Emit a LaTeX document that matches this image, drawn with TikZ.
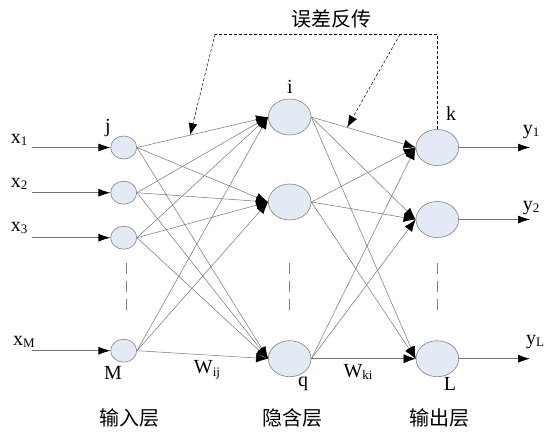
\documentclass[tikz,border=0pt]{standalone}
\usepackage{fontspec}
\setmainfont{Liberation Serif}
\newfontfamily\cjk{Noto Sans CJK SC}
\usetikzlibrary{shapes.geometric,arrows.meta,calc}
\definecolor{nodefill}{RGB}{228,233,246}
\definecolor{nodeedge}{RGB}{130,130,130}
\definecolor{linegray}{RGB}{115,115,115}
\newcommand{\nsub}[2]{#1\raisebox{-2.5pt}{\fontsize{13}{13}\selectfont #2}}
\begin{document}
\begin{tikzpicture}[x=1pt,y=-1pt,
  neuron/.style={ellipse, draw=nodeedge, fill=nodefill, line width=0.6pt, inner sep=0pt},
  insm/.style={neuron, minimum width=26pt, minimum height=23pt},
  bign/.style={neuron, minimum width=42.7pt, minimum height=36pt},
  conn/.style={draw=linegray, line width=0.5pt, -{Latex[length=12pt,width=9pt,color=black]}},
  ioarrow/.style={draw=linegray, line width=0.7pt, -{Latex[length=12pt,width=8pt,color=black]}},
  fbline/.style={draw=black, line width=0.5pt, dash pattern=on 3pt off 2pt},
  fbarrow/.style={fbline, -{Latex[length=12pt,width=9pt,color=black]}},
  layerdash/.style={draw=gray, line width=0.6pt, dash pattern=on 11pt off 7pt},
  lbl/.style={inner sep=0pt, font=\fontsize{20}{20}\selectfont},
  cjklbl/.style={inner sep=0pt, font=\cjk\fontsize{20}{20}\selectfont}
]
\useasboundingbox (0,0) rectangle (546,432);

% neurons
\node[insm] (in1) at (123.7,147.5) {};
\node[insm] (in2) at (123.7,192.7) {};
\node[insm] (in3) at (123.7,237.7) {};
\node[insm] (inM) at (123.7,350.7) {};
\node[bign] (h1) at (289.7,117) {};
\node[bign] (h2) at (289.7,202) {};
\node[bign] (hq) at (289.7,358.7) {};
\node[bign] (o1) at (437.3,147.5) {};
\node[bign] (o2) at (437.3,219.5) {};
\node[bign] (oL) at (437.3,358.7) {};

% input arrows
\coordinate (s1) at (31.7,147.5);
\coordinate (s2) at (31.7,192.7);
\coordinate (s3) at (31.7,237.7);
\coordinate (sM) at (31.7,350.7);
\draw[ioarrow] (s1) -- (in1.west);
\draw[ioarrow] (s2) -- (in2.west);
\draw[ioarrow] (s3) -- (in3.west);
\draw[ioarrow] (sM) -- (inM.west);

% output arrows
\coordinate (e1) at (530,147.5);
\coordinate (e2) at (530,219.5);
\coordinate (eL) at (530,358.7);
\draw[ioarrow] (o1.east) -- (e1);
\draw[ioarrow] (o2.east) -- (e2);
\draw[ioarrow] (oL.east) -- (eL);

% input -> hidden
\foreach \a in {in1,in2,in3,inM}{
  \foreach \b in {h1,h2,hq}{
    \draw[conn] (\a.east) -- (\b.west);
  }
}
% hidden -> output
\foreach \a in {h1,h2,hq}{
  \foreach \b in {o1,o2,oL}{
    \draw[conn] (\a.east) -- (\b.west);
  }
}

% layer dashes
\coordinate (dA1) at (126.7,263); \coordinate (dA2) at (126.7,317);
\coordinate (dB1) at (289.7,263); \coordinate (dB2) at (289.7,317);
\coordinate (dC1) at (437.3,263); \coordinate (dC2) at (437.3,317);
\draw[layerdash] (dA1) -- (dA2);
\draw[layerdash] (dB1) -- (dB2);
\draw[layerdash] (dC1) -- (dC2);

% error back-propagation
\coordinate (fbR) at (437.3,34.3);
\coordinate (fbL) at (215,34.3);
\coordinate (fbM) at (400,34.3);
\coordinate (tipL) at ($(in1.east)!0.405!(h1.west)$);
\coordinate (tipR) at ($(h1.east)!0.343!(o1.west)$);
\draw[fbline] (o1.north) -- (fbR) -- (fbL);
\draw[fbarrow] (fbL) -- (tipL);
\draw[fbarrow] (fbM) -- (tipR);
\node[cjklbl] (fbt) at (331.5,19) {误差反传};

% labels
\node[lbl] (lx1) at (19,140) {\nsub{x}{1}};
\node[lbl] (lx2) at (19,184) {\nsub{x}{2}};
\node[lbl] (lx3) at (19,228) {\nsub{x}{3}};
\node[lbl] (lxM) at (24,342) {\nsub{x}{M}};
\node[lbl] (ly1) at (531,132) {\nsub{y}{1}};
\node[lbl] (ly2) at (531,208) {\nsub{y}{2}};
\node[lbl] (lyL) at (535,342) {\nsub{y}{L}};
\node[lbl] (lj) at (108,128) {j};
\node[lbl] (li) at (290,87) {i};
\node[lbl] (lk) at (451,114) {k};
\node[lbl] (lM) at (113,373) {M};
\node[lbl] (lq) at (303,384) {q};
\node[lbl] (lL) at (450,384) {L};
\node[lbl] (lWij) at (207,370) {\nsub{W}{ij}};
\node[lbl] (lWki) at (358,372) {\nsub{W}{ki}};
\node[cjklbl] (lay1) at (129,418) {输入层};
\node[cjklbl] (lay2) at (292,418) {隐含层};
\node[cjklbl] (lay3) at (439,418) {输出层};
\end{tikzpicture}
\end{document}
